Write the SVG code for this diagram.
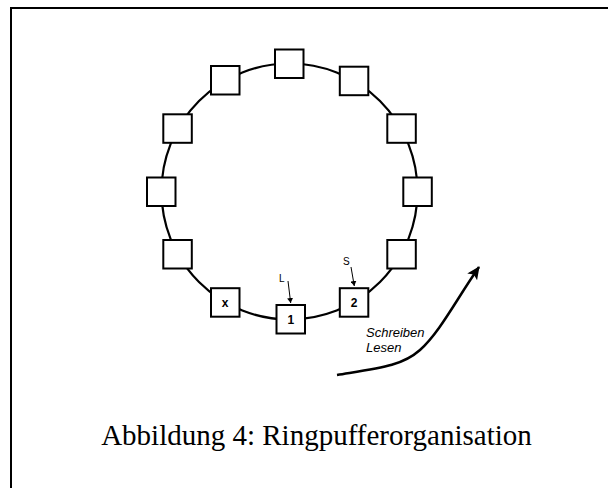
<svg xmlns="http://www.w3.org/2000/svg" width="608" height="488" viewBox="0 0 608 488">
  <style>
    .frame { fill: none; stroke: #000; stroke-width: 2; }
    .ring { fill: none; stroke: #000; stroke-width: 2.2; }
    .slot rect { fill: #fff; stroke: #000; stroke-width: 2; }
    .slot text { font-family: "Liberation Sans", Arial, sans-serif; font-size: 12px; font-weight: bold; text-anchor: middle; fill: #000; }
    .ptr { font-family: "Liberation Sans", Arial, sans-serif; font-size: 10px; fill: #000; }
    .ptrline { stroke: #000; stroke-width: 1; fill: none; }
    .dir { fill: none; stroke: #000; stroke-width: 2.5; }
    .note { font-family: "Liberation Sans", Arial, sans-serif; font-size: 13px; font-style: italic; fill: #000; }
    .caption { font-family: "Liberation Serif", "Times New Roman", serif; font-size: 29px; text-anchor: middle; fill: #000; }
  </style>
  <defs>
    <marker id="tipSmall" markerWidth="6" markerHeight="6" refX="5" refY="3" orient="auto" markerUnits="userSpaceOnUse">
      <path d="M0,0 L5,3 L0,6 Z" fill="#000"/>
    </marker>
    <marker id="tipBig" markerWidth="14" markerHeight="12" refX="12" refY="6" orient="auto" markerUnits="userSpaceOnUse">
      <path d="M0,0 L13,6 L0,12 L3,6 Z" fill="#000"/>
    </marker>
  </defs>

  <rect class="frame" x="11" y="8" width="611" height="600"/>

  <!-- ring buffer line -->
  <g id="connectors">
    <circle class="ring" cx="289.5" cy="191.5" r="128"/>
    <line class="ptrline" x1="288" y1="281" x2="290.7" y2="303" marker-end="url(#tipSmall)"/>
    <line class="ptrline" x1="351" y1="267" x2="354.3" y2="286" marker-end="url(#tipSmall)"/>
    <path class="dir" d="M337,375 C380,368 402,366 420,350 C440,332 456,300 479,267" marker-end="url(#tipBig)"/>
  </g>

  <!-- slots, clockwise from top -->
  <g id="slot0" class="slot"><rect x="275" y="49.5" width="28.5" height="28.5"/></g>
  <g id="slot1" class="slot"><rect x="339.8" y="66.7" width="28.5" height="28.5"/></g>
  <g id="slot2" class="slot"><rect x="387.3" y="114.3" width="28.5" height="28.5"/></g>
  <g id="slot3" class="slot"><rect x="403.3" y="177.5" width="28.5" height="28.5"/></g>
  <g id="slot4" class="slot"><rect x="387.3" y="240" width="28.5" height="28.5"/></g>
  <g id="slot5" class="slot"><rect x="339.8" y="288.2" width="28.5" height="28.5"/><text x="354.2" y="307">2</text></g>
  <g id="slot6" class="slot"><rect x="276.5" y="305" width="28.5" height="28.5"/><text x="290.8" y="323.8">1</text></g>
  <g id="slot7" class="slot"><rect x="211" y="288.2" width="28.5" height="28.5"/><text x="225.2" y="306.5">x</text></g>
  <g id="slot8" class="slot"><rect x="163.3" y="240" width="28.5" height="28.5"/></g>
  <g id="slot9" class="slot"><rect x="147" y="177.5" width="28.5" height="28.5"/></g>
  <g id="slot10" class="slot"><rect x="163.3" y="114.3" width="28.5" height="28.5"/></g>
  <g id="slot11" class="slot"><rect x="211" y="66" width="28.5" height="28.5"/></g>

  <!-- read / write pointers -->
  <g id="pointerL"><text class="ptr" x="279" y="281.7">L</text></g>
  <g id="pointerS"><text class="ptr" x="343" y="265">S</text></g>

  <g id="direction">
    <text class="note" x="366" y="337">Schreiben</text>
    <text class="note" x="366" y="351.7">Lesen</text>
  </g>

  <text class="caption" x="316.5" y="445">Abbildung 4: Ringpufferorganisation</text>
</svg>
